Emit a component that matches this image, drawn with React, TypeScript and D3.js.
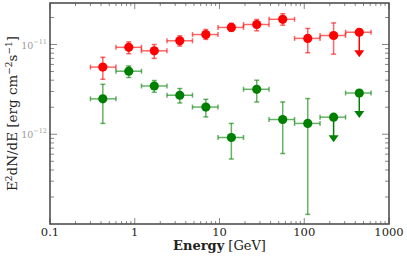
import * as d3 from "d3";

// energy bins (GeV)
const binLo = [0.3, 0.6, 1.2, 2.4, 4.8, 9.6, 19.2, 38.4, 76.8, 153.6, 307.2];
const binHi = [0.6, 1.2, 2.4, 4.8, 9.6, 19.2, 38.4, 76.8, 153.6, 307.2, 614.4];
const energy = [0.42, 0.85, 1.7, 3.4, 6.9, 13.8, 27.5, 55.7, 110, 222, 446];

// red series (E^2 dN/dE, erg cm^-2 s^-1)
const redVal = [5.6e-12, 9.3e-12, 8.5e-12, 1.1e-11, 1.29e-11, 1.55e-11, 1.67e-11, 1.91e-11, 1.17e-11, 1.26e-11, 1.37e-11];
const redHi = [7.2e-12, 1.07e-11, 1.0e-11, 1.25e-11, 1.47e-11, 1.72e-11, 1.9e-11, 2.2e-11, 1.51e-11, 1.74e-11, null];
const redLo = [4.1e-12, 7.9e-12, 7.0e-12, 9.6e-12, 1.14e-11, 1.4e-11, 1.42e-11, 1.64e-11, 8.1e-12, 7.8e-12, null];
const redUL = [false, false, false, false, false, false, false, false, false, false, true];

// green series
const greenVal = [2.48e-12, 5.04e-12, 3.45e-12, 2.72e-12, 2.01e-12, 9.2e-13, 3.17e-12, 1.46e-12, 1.32e-12, 1.55e-12, 2.88e-12];
const greenHi = [3.6e-12, 5.77e-12, 3.97e-12, 3.23e-12, 2.45e-12, 1.32e-12, 4.0e-12, 2.29e-12, 2.5e-12, null, null];
const greenLo = [1.32e-12, 4.29e-12, 2.94e-12, 2.23e-12, 1.56e-12, 5.3e-13, 2.29e-12, 6.1e-13, 1.28e-13, null, null];
const greenUL = [false, false, false, false, false, false, false, false, false, true, true];

const xTicks = [0.1, 1, 10, 100, 1000];
const xTickLabels = ["0.1", "1", "10", "100", "1000"];
const yTicks = [1e-11, 1e-12];
const yTickExp = ["−11", "−12"];

const W = 407;
const H = 260;
const m = { left: 50, right: 18, top: 3, bottom: 36 };

const x = d3.scaleLog().domain([0.1, 1000]).range([m.left, W - m.right]);
const y = d3.scaleLog().domain([1e-13, 2.9e-11]).range([H - m.bottom, m.top]);

const serif = "DejaVu Serif";

function minorTicks(lo: number, hi: number) {
  const out: number[] = [];
  for (let d = lo; d < hi; d *= 10) {
    for (let k = 2; k <= 9; k++) out.push(d * k);
  }
  return out;
}

function Series({ val, hi, lo, ul, color }: any) {
  const arrow = 25;
  return (
    <g>
      {energy.map((e, i) => {
        const cx = x(e);
        const cy = y(val[i]);
        const x0 = x(binLo[i]);
        const x1 = x(binHi[i]);
        return (
          <g key={i}>
            <g stroke={color} strokeOpacity={0.6} strokeWidth={1.5}>
              <line x1={x0} x2={x1} y1={cy} y2={cy} />
              <line x1={x0} x2={x0} y1={cy - 2.5} y2={cy + 2.5} />
              <line x1={x1} x2={x1} y1={cy - 2.5} y2={cy + 2.5} />
              {hi[i] != null && (
                <>
                  <line x1={cx} x2={cx} y1={y(hi[i])} y2={y(lo[i])} />
                  <line x1={cx - 2.5} x2={cx + 2.5} y1={y(hi[i])} y2={y(hi[i])} />
                  <line x1={cx - 2.5} x2={cx + 2.5} y1={y(lo[i])} y2={y(lo[i])} />
                </>
              )}
            </g>
            {ul[i] && (
              <g>
                <line x1={cx} x2={cx} y1={cy} y2={cy + arrow - 5} stroke={color} strokeWidth={1.5} />
                <path
                  d={`M${cx - 5},${cy + arrow - 7} L${cx + 5},${cy + arrow - 7} L${cx},${cy + arrow} Z`}
                  fill={color}
                />
              </g>
            )}
            <circle cx={cx} cy={cy} r={4.6} fill={color} />
          </g>
        );
      })}
    </g>
  );
}

export default function App() {
  const [xl, xr] = x.range();
  const [yb, yt] = y.range();
  const xMinor = minorTicks(0.1, 1000);
  const yMinor = minorTicks(1e-13, 1e-11).concat([2e-11]);
  const tickColor = "#888";
  return (
    <svg width={W} height={H} style={{ position: "absolute", left: 0, top: 0, background: "#fff" }}>
      <rect width={W} height={H} fill="#fff" />
      {/* ticks */}
      <g stroke={tickColor} strokeWidth={1}>
        {xTicks.map((t) => (
          <g key={"xm" + t}>
            <line x1={x(t)} x2={x(t)} y1={yb} y2={yb - 6} />
            <line x1={x(t)} x2={x(t)} y1={yt} y2={yt + 6} />
          </g>
        ))}
        {xMinor.map((t) => (
          <g key={"xn" + t}>
            <line x1={x(t)} x2={x(t)} y1={yb} y2={yb - 3} />
            <line x1={x(t)} x2={x(t)} y1={yt} y2={yt + 3} />
          </g>
        ))}
        {yTicks.map((t) => (
          <g key={"ym" + t}>
            <line x1={xl} x2={xl + 7} y1={y(t)} y2={y(t)} />
            <line x1={xr} x2={xr - 7} y1={y(t)} y2={y(t)} />
          </g>
        ))}
        {yMinor.map((t) => (
          <g key={"yn" + t}>
            <line x1={xl} x2={xl + 4} y1={y(t)} y2={y(t)} />
            <line x1={xr} x2={xr - 4} y1={y(t)} y2={y(t)} />
          </g>
        ))}
      </g>
      <Series val={greenVal} hi={greenHi} lo={greenLo} ul={greenUL} color="#008000" />
      <Series val={redVal} hi={redHi} lo={redLo} ul={redUL} color="#ff0000" />
      {/* frame */}
      <rect x={xl} y={yt} width={xr - xl} height={yb - yt} fill="none" stroke="#444" strokeWidth={1.5} />
      {/* x tick labels */}
      <g fontFamily={serif} fontSize={11.5} fill="#222" textAnchor="middle">
        {xTicks.map((t, i) => (
          <text key={t} x={x(t)} y={yb + 12}>
            {xTickLabels[i]}
          </text>
        ))}
      </g>
      {/* y tick labels */}
      <g fontFamily={serif} fill="#999" textAnchor="end">
        {yTicks.map((t, i) => (
          <text key={t} x={xl - 3} y={y(t) + 4} fontSize={9.5}>
            10
            <tspan dy={-5} fontSize={6.5}>
              {yTickExp[i]}
            </tspan>
          </text>
        ))}
      </g>
      <text x={(xl + xr) / 2} y={H - 10} textAnchor="middle" fontFamily={serif} fontSize={13} fill="#222">
        <tspan fontWeight="bold">Energy</tspan> [GeV]
      </text>
      <text
        transform={`translate(17,${(yb + yt) / 2}) rotate(-90)`}
        textAnchor="middle"
        fontFamily={serif}
        fontSize={13.5}
        fill="#222"
      >
        E<tspan dy={-5} fontSize={9}>2</tspan>
        <tspan dy={5}>dN/dE [erg cm</tspan>
        <tspan dy={-5} fontSize={9}>−2</tspan>
        <tspan dy={5}>s</tspan>
        <tspan dy={-5} fontSize={9}>−1</tspan>
        <tspan dy={5}>]</tspan>
      </text>
    </svg>
  );
}
